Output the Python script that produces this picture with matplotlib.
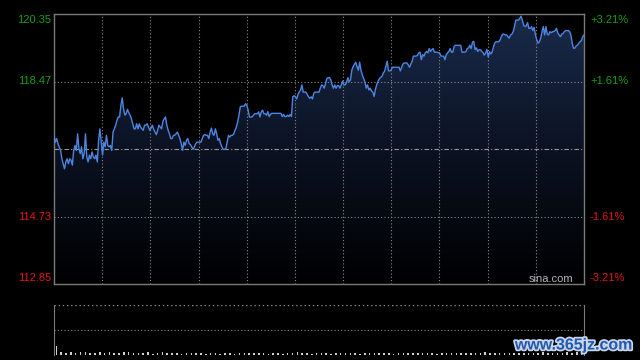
import numpy as np
import matplotlib
matplotlib.use("Agg")
import matplotlib.pyplot as plt
import matplotlib.patheffects as pe
from matplotlib.colors import LinearSegmentedColormap

# ---------------- data ----------------
prev_close = 116.60
price_min, price_max = 112.85, 120.35
left_labels = ["120.35", "118.47", "114.73", "112.85"]
left_values = [120.35, 118.475, 114.725, 112.85]
right_labels = ["+3.21%", "+1.61%", "-1.61%", "-3.21%"]

price_seg1 = [116.98, 116.79, 116.89, 116.75, 116.66, 116.56, 116.33, 116.19, 116.05, 116.24,
              116.33, 116.19, 116.33, 116.29, 116.15, 116.56, 116.70, 116.56, 117.02, 116.61,
              116.47, 116.66, 116.33, 116.47, 117.02, 116.38, 116.24, 116.43, 116.33, 116.52,
              116.38, 116.33, 116.43, 116.24, 116.84, 117.16, 116.79, 116.43, 116.79, 116.66,
              116.98, 116.70, 116.66, 116.70, 116.56, 117.07, 117.16, 117.26, 117.40, 117.49,
              117.49, 117.81, 118.02, 117.72, 117.54, 117.58, 117.70, 117.61, 117.54, 117.44,
              117.30, 117.16, 117.16, 117.30, 117.16, 117.30, 117.21, 117.16, 117.12, 117.26,
              117.26, 117.30, 117.21, 117.12, 117.18, 117.26, 117.15, 117.07, 117.00, 117.12,
              117.26, 117.21]
price_seg2 = [117.16, 117.37, 117.44, 117.49, 117.26, 117.12, 117.02, 116.89, 116.89, 116.98,
              116.98, 117.02, 117.07, 116.98, 116.89, 116.75, 116.56, 116.79, 116.70, 116.84,
              116.89, 116.75, 116.72, 116.66, 116.59, 116.66, 116.75, 116.79, 116.79, 116.79,
              116.79, 116.89, 116.98, 117.00, 116.98, 116.98, 116.89, 117.07, 117.18, 117.02,
              116.98, 117.16, 117.02, 116.84, 116.89, 116.75, 116.66, 116.59, 116.59, 116.61,
              116.79, 116.98, 116.93, 116.98, 116.98, 117.02, 117.12, 117.21, 117.35, 117.54,
              117.77, 117.79, 117.79, 117.79, 117.86, 117.81, 117.68, 117.49, 117.49, 117.49,
              117.54, 117.58, 117.58, 117.58, 117.63, 117.49, 117.63, 117.68, 117.58, 117.58]
price_seg3 = [117.54, 117.64, 117.50, 117.56, 117.59, 117.59, 117.59, 117.59, 117.59, 117.59,
              117.59, 117.59, 117.50, 117.56, 117.50, 117.50, 117.54, 117.50, 117.56, 117.50,
              118.05, 118.08, 118.05, 117.99, 118.12, 118.19, 118.24, 118.38, 118.18, 118.18,
              118.18, 118.12, 118.05, 118.01, 118.05, 117.99, 118.15, 118.18, 118.18, 118.18,
              118.18, 118.29, 118.38, 118.36, 118.29, 118.43, 118.56, 118.58, 118.58, 118.52,
              118.38, 118.29, 118.38, 118.29, 118.36, 118.36, 118.29, 118.38, 118.49, 118.38,
              118.38, 118.45, 118.58, 118.47, 118.52, 118.79, 118.89, 118.95, 119.01, 118.89,
              118.79, 119.01, 118.79, 118.66, 118.56, 118.47, 118.29, 118.38, 118.24, 118.29,
              118.21]
price_seg4 = [118.18, 118.06, 118.25, 118.39, 118.48, 118.55, 118.59, 118.62, 118.71, 118.76,
              118.90, 119.04, 118.77, 118.77, 118.80, 118.87, 118.87, 118.87, 118.87, 118.87,
              118.87, 118.77, 118.87, 118.96, 118.99, 118.99, 118.99, 118.94, 118.87, 118.96,
              119.04, 119.18, 119.18, 119.18, 119.20, 119.27, 119.29, 119.08, 119.22, 119.18,
              119.27, 119.31, 119.27, 119.39, 119.31, 119.36, 119.39, 119.29, 119.29, 119.29,
              119.27, 119.27, 119.18, 119.18, 119.18, 119.08, 119.22, 119.27, 119.31, 119.39,
              119.29, 119.29, 119.45, 119.48, 119.48, 119.48, 119.48, 119.48, 119.29, 119.29,
              119.29, 119.31, 119.39, 119.41, 119.48, 119.39, 119.57, 119.59, 119.36, 119.41,
              119.31, 119.36, 119.36, 119.31]
price_seg5 = [119.28, 119.21, 119.26, 119.37, 119.16, 119.30, 119.24, 119.30, 119.44, 119.55,
              119.58, 119.58, 119.58, 119.63, 119.72, 119.79, 119.79, 119.77, 119.77, 119.72,
              119.68, 119.77, 119.79, 119.86, 120.00, 120.18, 120.18, 120.18, 120.23, 120.29,
              120.18, 120.04, 120.00, 120.02, 120.11, 119.95, 119.95, 120.00, 119.89, 119.98,
              119.77, 119.63, 119.54, 119.58, 119.68, 119.86, 120.00, 119.77, 120.00, 119.79,
              119.77, 119.86, 119.83, 119.86, 119.86, 119.89, 119.95, 119.83, 119.77, 119.72,
              119.79, 119.81, 119.86, 119.89, 119.89, 119.89, 119.86, 119.77, 119.54, 119.40,
              119.40, 119.46, 119.49, 119.54, 119.58, 119.61, 119.72, 119.77]

volume = [190, 60, 45, 70, 40, 55, 65, 35, 50, 60, 45, 70, 40, 35, 55, 60, 40, 50, 45, 65,
          30, 40, 55, 35, 45, 50, 30, 40, 35, 45, 50, 30, 35, 40, 30, 45, 35, 30, 40, 35,
          50, 40, 35, 45, 30, 35, 40, 30, 35, 45, 55, 40, 35, 30, 40, 45, 35, 30, 40, 50,
          35, 40, 45, 30, 35, 40, 50, 45, 35, 40, 30, 45, 40, 35, 50, 40, 35, 45, 40, 30,
          35, 45, 40, 50, 35, 40, 45, 35, 40, 55, 45, 40, 35, 50, 40, 45, 35, 40, 50, 45,
          40, 55, 45, 40, 50, 45, 60, 50, 55, 70]

# ---------------- figure ----------------
prices = np.array(price_seg1 + price_seg2 + price_seg3 + price_seg4 + price_seg5)
minutes = np.linspace(0, 330, len(prices))

W, H = 640, 360
fig = plt.figure(figsize=(6.4, 3.6), dpi=100, facecolor="black")

def px_axes(l, t, r, b):
    return fig.add_axes([l / W, 1 - b / H, (r - l) / W, (b - t) / H])

ax = px_axes(54, 14, 584, 284)
ax.set_facecolor("black")
ax.set_xlim(0, 330)
ax.set_ylim(price_min, price_max)

# gradient fill under the line
cmap = LinearSegmentedColormap.from_list("fill", ["#000000", "#0b1222", "#1a2b4c"])
grad = np.linspace(0, 1, 256).reshape(-1, 1)
im = ax.imshow(grad, extent=[0, 330, price_min, price_max], origin="lower",
               cmap=cmap, aspect="auto", zorder=1)
poly = ax.fill_between(minutes, prices, price_min, color="none", lw=0)
clip_path = poly.get_paths()[0]
im.set_clip_path(clip_path, transform=ax.transData)

# grid
grid_col = "#8a8a8a"
for k in range(1, 11):
    ax.axvline(k * 30, color=grid_col, lw=0.8, ls=(0, (1, 2)), zorder=2)
for v in (118.475, 114.725):
    ax.axhline(v, color=grid_col, lw=0.8, ls=(0, (1, 2)), zorder=2)
ax.axhline(prev_close, color="#9a9a9a", lw=0.8, ls=(0, (4, 2, 1, 2)), zorder=2)

ax.plot(minutes, prices, color="#4d86e2", lw=1.0, zorder=3)

for s in ax.spines.values():
    s.set_color("#7a7a7a")
    s.set_linewidth(1.0)
ax.set_xticks([])
ax.set_yticks([])

green, red = "#16a016", "#e01414"
offsets = [-6, 0, 0, 6]
for lab, val, rlab, dy in zip(left_labels, left_values, right_labels, offsets):
    col = green if val > prev_close else red
    ax.annotate(lab, xy=(0, val), xycoords=("axes fraction", "data"),
                xytext=(-3, dy), textcoords="offset pixels", ha="right", va="center",
                color=col, fontsize=8, family="Liberation Sans")
    ax.annotate(rlab, xy=(1, val), xycoords=("axes fraction", "data"),
                xytext=(6, dy), textcoords="offset pixels", ha="left", va="center",
                color=col, fontsize=8, family="Liberation Sans")

ax.text(573 - 54, 279, "sina.com", transform=None, color="#b0b0b0")  # placeholder removed below
ax.texts[-1].remove()
fig.text(573 / W, 1 - 279 / H, "sina.com", ha="right", va="center", color="#b4b4b4",
         fontsize=8, family="Liberation Sans")

# volume panel
axv = px_axes(54, 305, 584, 355)
axv.set_facecolor("black")
axv.set_xlim(0, 330)
axv.set_ylim(0, 1000)
vx = np.linspace(1.5, 328.5, len(volume))
axv.bar(vx, volume, width=1.0, color="#d0d0d0", lw=0)
axv.axhline(500, color=grid_col, lw=0.8, ls=(0, (1, 2)))
axv.axhline(1000, color=grid_col, lw=1.0, ls=(0, (1, 2)))
axv.spines["top"].set_visible(False)
axv.spines["bottom"].set_visible(False)
for sname in ("left", "right"):
    axv.spines[sname].set_color("#7a7a7a")
axv.set_xticks([])
axv.set_yticks([])

# watermark
fig.text(574 / W, 1 - 345 / H, "www.365jz.com", ha="center", va="center",
         color="#2458a8", fontsize=11.5, fontweight="bold", family="Liberation Sans",
         path_effects=[pe.withStroke(linewidth=2.5, foreground="#c8d6ee")])

fig.savefig("out.png", dpi=100, facecolor="black")
